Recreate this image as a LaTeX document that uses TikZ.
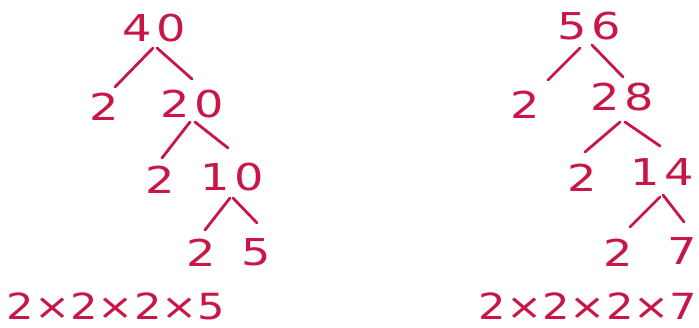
\documentclass[tikz,border=0pt]{standalone}
\usepackage{fontspec}
\newfontfamily\hand[LetterSpace=12,FakeStretch=1.25]{DejaVu Sans}
\newfontfamily\handr[LetterSpace=0,FakeStretch=1.2]{DejaVu Sans}
\definecolor{ink}{RGB}{200,22,70}
\begin{document}
\begin{tikzpicture}[x=1pt,y=-1pt,
  num/.style={text=ink,font=\hand\fontsize{37}{37}\selectfont,inner sep=0pt,anchor=center},
  res/.style={text=ink,font=\handr\fontsize{36}{36}\selectfont,inner sep=0pt,anchor=center},
  br/.style={draw=ink,line width=2.8pt,line cap=round}]
\fill[white] (0,0) rectangle (699,328);
\useasboundingbox (0,0) rectangle (699,328);
% left tree
\node[num] (a40) at (154,28) {40};
\node[num] (a2) at (104,107) {2};
\node[num] (a20) at (192,104) {20};
\node[num] (b2) at (160,180) {2};
\node[num] (a10) at (232,177) {10};
\node[num] (c2) at (201,253) {2};
\node[num] (a5) at (256,252) {5};
\node[res] (r1) at (116,306) {2×2×2×5};
\coordinate (a40l) at (153,48); \coordinate (a40r) at (157,48);
\coordinate (a2t) at (115,87); \coordinate (a20t) at (192,79);
\draw[br] (a2t) -- (a40l) (a40r) -- (a20t);
\coordinate (a20l) at (190,122); \coordinate (a20r) at (195,122);
\coordinate (b2t) at (162,158); \coordinate (a10t) at (228,148);
\draw[br] (b2t) -- (a20l) (a20r) -- (a10t);
\coordinate (a10l) at (230,198); \coordinate (a10r) at (233,198);
\coordinate (c2t) at (205,230); \coordinate (a5t) at (257,223);
\draw[br] (c2t) -- (a10l) (a10r) -- (a5t);
% right tree
\node[num] (n56) at (589,26) {56};
\node[num] (d2) at (525,105) {2};
\node[num] (n28) at (622,97) {28};
\node[num] (e2) at (582,178) {2};
\node[num] (n14) at (662,172) {14};
\node[num] (f2) at (618,253) {2};
\node[num] (n7) at (682,251) {7};
\node[res] (r2) at (588,306) {2×2×2×7};
\coordinate (n56l) at (580,48); \coordinate (n56r) at (592,45);
\coordinate (d2t) at (548,80); \coordinate (n28t) at (623,77);
\draw[br] (d2t) -- (n56l) (n56r) -- (n28t);
\coordinate (n28l) at (620,122); \coordinate (n28r) at (625,122);
\coordinate (e2t) at (585,152); \coordinate (n14t) at (660,146);
\draw[br] (e2t) -- (n28l) (n28r) -- (n14t);
\coordinate (n14l) at (660,197); \coordinate (n14r) at (663,195);
\coordinate (f2t) at (630,227); \coordinate (n7t) at (684,222);
\draw[br] (f2t) -- (n14l) (n14r) -- (n7t);
\end{tikzpicture}
\end{document}
